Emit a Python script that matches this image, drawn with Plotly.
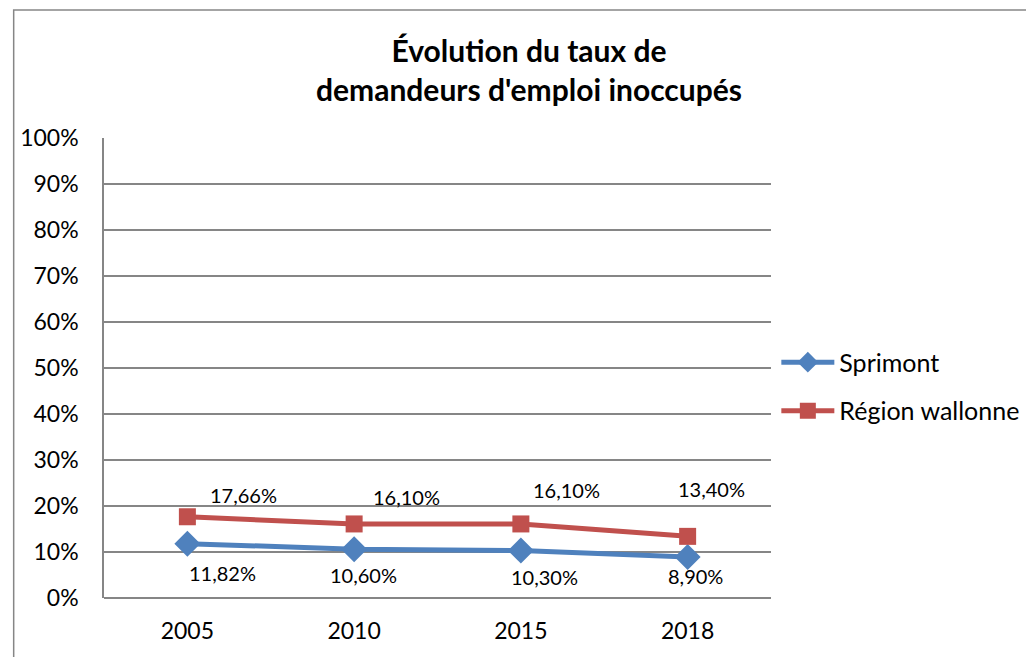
import plotly.graph_objects as go

years = ["2005", "2010", "2015", "2018"]
sprimont = [11.82, 10.60, 10.30, 8.90]
wallonie = [17.66, 16.10, 16.10, 13.40]
sprimont_labels = ["11,82%", "10,60%", "10,30%", "8,90%"]
wallonie_labels = ["17,66%", "16,10%", "16,10%", "13,40%"]
y_ticks = [0, 10, 20, 30, 40, 50, 60, 70, 80, 90, 100]
y_tick_text = [f"{v}%" for v in y_ticks]

# label pixel offsets relative to the points (style): (dx right, dy down)
sprimont_off = [(35, 29), (9, 26), (24, 26), (8, 19)]
wallonie_off = [(56, -22), (52, -27), (46, -34), (24, -47)]

BLUE = "#4F81BD"
RED = "#C0504D"
GRID = "#868686"
FONT = "Lato, 'Open Sans', sans-serif"

fig = go.Figure()
fig.add_trace(go.Scatter(
    x=years, y=sprimont, name="Sprimont", mode="lines+markers",
    line=dict(color=BLUE, width=5), legendgroup="a",
    marker=dict(symbol="diamond", size=20, color=BLUE),
))
fig.add_trace(go.Scatter(
    x=years, y=wallonie, name="Région wallonne", mode="lines+markers",
    line=dict(color=RED, width=5), legendgroup="b",
    marker=dict(symbol="square", size=17, color=RED),
))

annotations = []
for vals, labs, offs in [(sprimont, sprimont_labels, sprimont_off),
                         (wallonie, wallonie_labels, wallonie_off)]:
    for i, (y, t, (dx, dy)) in enumerate(zip(vals, labs, offs)):
        annotations.append(dict(
            x=i, y=y, xref="x", yref="y", text=t, showarrow=False,
            xshift=dx, yshift=-dy, font=dict(family=FONT, size=20, color="#000000"),
        ))

# page body has an 8px margin; compensate so the plot lands where the reference has it
L, T = 91, 130
PW, PH = 672, 460
W, H = 1034, 657
fig.update_layout(
    width=W, height=H,
    paper_bgcolor="white", plot_bgcolor="white",
    margin=dict(l=L, r=W - L - PW, t=T, b=H - T - PH),
    title=dict(
        text="<b>Évolution du taux de<br>demandeurs d'emploi inoccupés</b>",
        x=521 / W, xanchor="center", y=1 - 54 / H, yanchor="middle",
        font=dict(family=FONT, size=30, color="#000000"),
    ),
    font=dict(family=FONT, size=22, color="#000000"),
    xaxis=dict(
        type="category", range=[-0.5, 3.5], showgrid=False, zeroline=False,
        showline=False, ticks="", ticklabelstandoff=17,
        tickfont=dict(family=FONT, size=23, color="#000000"),
    ),
    yaxis=dict(
        range=[0, 100], tickvals=y_ticks, ticktext=y_tick_text,
        showgrid=True, gridcolor=GRID, gridwidth=1.5, zeroline=True,
        zerolinecolor=GRID, zerolinewidth=1.5,
        showline=True, linecolor=GRID, linewidth=1.5, ticks="",
        ticklabelstandoff=19,
        tickfont=dict(family=FONT, size=23, color="#000000"),
    ),
    legend=dict(
        x=1.008, xanchor="left", y=0.46, yanchor="middle",
        font=dict(family=FONT, size=25, color="#000000"),
        itemwidth=53, tracegroupgap=13, traceorder="grouped",
        bgcolor="rgba(0,0,0,0)",
    ),
    annotations=annotations,
    shapes=[dict(
        type="rect", xref="paper", yref="paper",
        x0=(0 - L) / PW, x1=(1100 - L) / PW,
        y0=-150 / PH, y1=1 + (T - 2) / PH,
        line=dict(color="#868686", width=1.5), fillcolor="rgba(0,0,0,0)",
        layer="below",
    )],
)

fig.write_html("out.html")
